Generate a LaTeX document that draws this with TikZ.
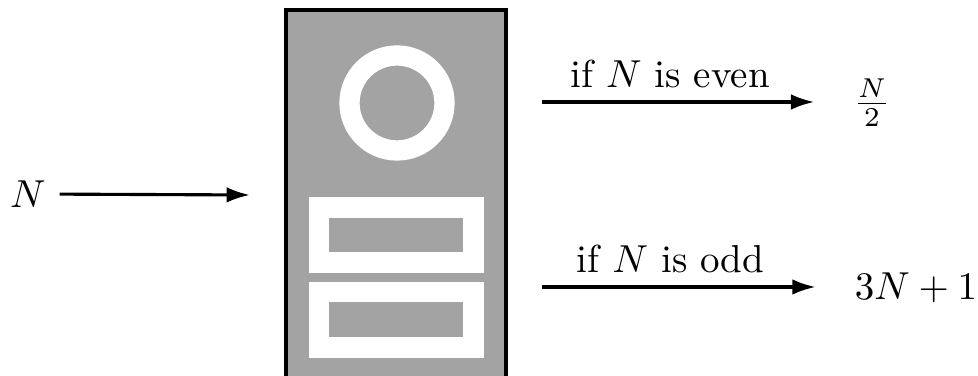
\documentclass[tikz,border=0pt]{standalone}
\usepackage{amsmath}
\usetikzlibrary{arrows.meta, positioning}

\begin{document}
\begin{tikzpicture}[
    x=0.2564pt, y=-0.2564pt,
    arr/.style={-{Latex[length=6pt,width=4pt]}, thick},
    cond/.style={above, inner sep=3.3pt},
    panel/.style={draw=white, line width=5.2pt},
]
\clip (0,0) rectangle (978,376);

% the machine
\draw[thick, fill=black!36] (286,10) rectangle (506,400);
\draw[panel] (397,103) circle[radius=47.5];
\draw[panel] (319,207.5) rectangle (473.5,262.5);
\draw[panel] (319,292) rectangle (473.5,347.5);

\coordinate (machine-in) at (250,195);
\coordinate (even-out) at (542,102);
\coordinate (odd-out) at (542,287);

\node (input) at (28,194) {$N$};
\node (half) at (872,103) {$\frac{N}{2}$};
\node (triple) at (916,288) {$3N+1$};

\draw[arr] (input) -- (machine-in);
\draw[arr, shorten >=6.5pt] (even-out) -- (half.west |- even-out)
    node[cond, pos=0.43] {if $N$ is even};
\draw[arr, shorten >=6.5pt] (odd-out) -- (triple.west |- odd-out)
    node[cond, pos=0.43] {if $N$ is odd};

\end{tikzpicture}
\end{document}
